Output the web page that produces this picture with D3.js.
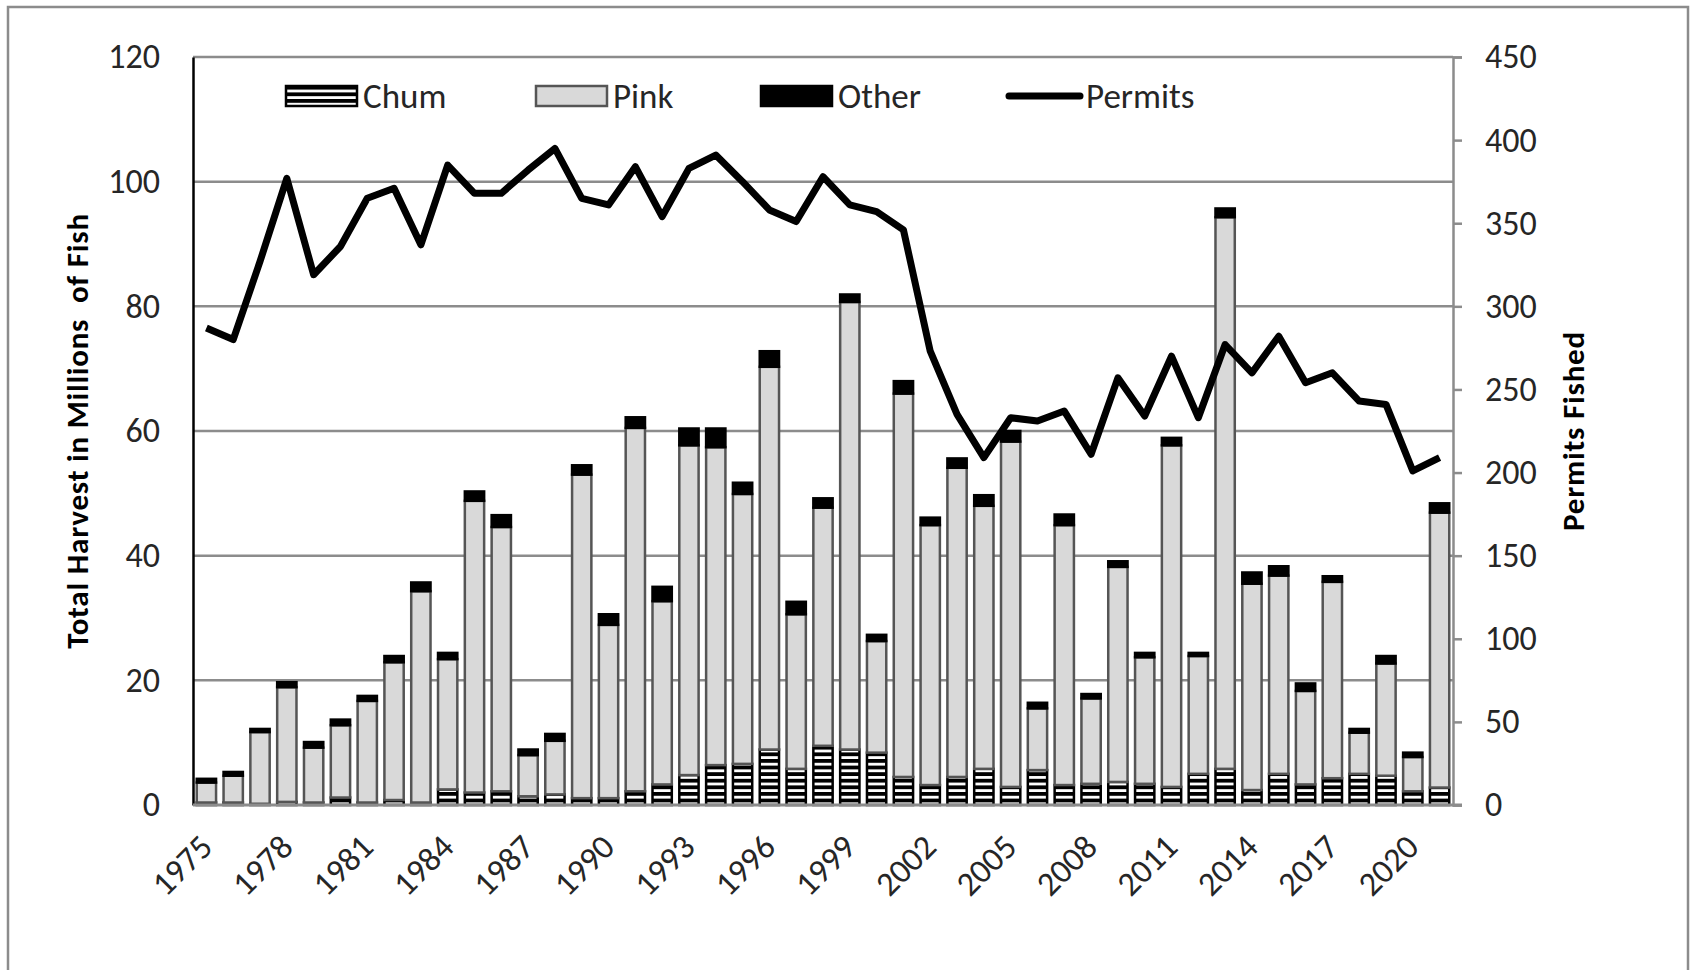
<!DOCTYPE html>
<html>
<head>
<meta charset="utf-8">
<script src="https://cdn.jsdelivr.net/npm/d3@7"></script>
<style>
  html, body { margin: 0; padding: 0; background: #fff; }
  svg { display: block; font-family: Carlito, Calibri, Lato, sans-serif; }
</style>
</head>
<body>
<svg class="svg"></svg>
<script>
// harvest in millions of fish, stacked chum / pink / other
const years = d3.range(1975, 2022);
const chum = [0.4, 0.4, 0.2, 0.5, 0.4, 1.2, 0.4, 0.8, 0.4, 2.5,
  2.0, 2.2, 1.4, 1.7, 1.1, 1.1, 2.2, 3.3, 4.8, 6.4,
  6.6, 8.9, 5.8, 9.5, 8.9, 8.4, 4.5, 3.2, 4.5, 5.8,
  2.9, 5.6, 3.2, 3.4, 3.7, 3.4, 2.9, 5.0, 5.8, 2.4,
  5.0, 3.3, 4.3, 5.0, 4.7, 2.2, 2.8];
const pink = [3.2, 4.3, 11.5, 18.4, 8.8, 11.6, 16.3, 22.1, 33.9, 20.9,
  46.8, 42.4, 6.6, 8.6, 51.9, 27.8, 58.3, 29.4, 52.9, 51.0,
  43.3, 61.4, 24.8, 38.2, 71.8, 17.9, 61.5, 41.7, 49.6, 42.2,
  55.4, 9.9, 41.7, 13.7, 34.5, 20.3, 54.8, 18.9, 88.5, 33.1,
  31.8, 15.0, 31.5, 6.6, 18.0, 5.5, 44.1];
const other = [0.6, 0.6, 0.5, 0.8, 0.9, 0.9, 0.8, 1.0, 1.4, 1.0,
  1.5, 1.9, 0.9, 1.1, 1.5, 1.7, 1.7, 2.3, 2.7, 3.0,
  1.8, 2.5, 2.0, 1.5, 1.2, 1.0, 2.0, 1.2, 1.5, 1.7,
  1.7, 0.9, 1.7, 0.7, 0.9, 0.7, 1.2, 0.5, 1.4, 1.8,
  1.5, 1.2, 0.9, 0.6, 1.2, 0.7, 1.5];
const permits = [287, 280, 327, 377, 319, 336, 365, 371, 337, 385,
  368, 368, 382, 395, 365, 361, 384, 354, 383, 391,
  375, 358, 351, 378, 361, 357, 346, 273, 235, 209,
  233, 231, 237, 211, 257, 234, 270, 233, 277, 260,
  282, 254, 260, 243, 241, 201, 209];
const yearLabels = d3.range(1975, 2021, 3);
const leftTicks = [0, 20, 40, 60, 80, 100, 120];
const rightTicks = [0, 50, 100, 150, 200, 250, 300, 350, 400, 450];
const seriesNames = ['Chum', 'Pink', 'Other'];

const width = 1692;
const height = 970;
const plotL = 193, plotR = 1453, plotT = 57, plotB = 805;
const txt = '#262626';

const svg = d3.select('.svg')
  .attr('width', width)
  .attr('height', height);

const defs = svg.append('defs');
const pat = defs.append('pattern')
  .attr('id', 'chum-pat')
  .attr('patternUnits', 'userSpaceOnUse')
  .attr('width', 8)
  .attr('height', 6.6);
pat.append('rect').attr('width', 8).attr('height', 6.6).attr('fill', '#fff');
pat.append('rect').attr('width', 8).attr('height', 3.8).attr('fill', '#000');

// outer chart border
svg.append('rect')
  .attr('x', 8).attr('y', 7)
  .attr('width', 1680).attr('height', 990)
  .attr('fill', 'none')
  .attr('stroke', '#8c8c8c')
  .attr('stroke-width', 2.5);

const x = d3.scaleBand()
  .domain(years)
  .range([plotL, plotR])
  .paddingInner(0.28)
  .paddingOuter(0.14);

const y = d3.scaleLinear().domain([0, 120]).range([plotB, plotT]);
const y2 = d3.scaleLinear().domain([0, 450]).range([plotB, plotT]);

const rows = years.map((yr, i) => ({ year: yr, chum: chum[i], pink: pink[i], other: other[i] }));
const stack = d3.stack().keys(['chum', 'pink', 'other'])(rows);

// gridlines
svg.append('g')
  .selectAll('line')
  .data(leftTicks.filter(d => d > 0))
  .join('line')
  .attr('x1', plotL).attr('x2', plotR)
  .attr('y1', d => y(d)).attr('y2', d => y(d))
  .attr('stroke', '#8c8c8c')
  .attr('stroke-width', 2.5);

// right axis
const rAxis = svg.append('g')
  .attr('transform', `translate(${plotR},0)`)
  .call(d3.axisRight(y2).tickValues(rightTicks).tickSize(9).tickPadding(23));
rAxis.select('.domain').attr('stroke', '#8c8c8c').attr('stroke-width', 2.5);
rAxis.selectAll('.tick line').attr('stroke', '#8c8c8c').attr('stroke-width', 2.5);
rAxis.selectAll('.tick text')
  .attr('font-size', 34)
  .attr('font-family', 'Carlito, Calibri, Lato, sans-serif')
  .attr('fill', txt);

// bars
const fills = { chum: 'url(#chum-pat)', pink: '#d9d9d9', other: '#000' };
const strokes = { chum: '#000', pink: '#555', other: '#000' };
svg.append('g')
  .selectAll('g')
  .data(stack)
  .join('g')
  .attr('fill', d => fills[d.key])
  .attr('stroke', d => strokes[d.key])
  .attr('stroke-width', 2.5)
  .selectAll('rect')
  .data(d => d)
  .join('rect')
  .attr('x', d => x(d.data.year))
  .attr('width', x.bandwidth())
  .attr('y', d => y(d[1]))
  .attr('height', d => y(d[0]) - y(d[1]));

// left axis
const lAxis = svg.append('g')
  .attr('transform', `translate(${plotL},0)`)
  .call(d3.axisLeft(y).tickValues(leftTicks).tickSize(0).tickPadding(33));
lAxis.select('.domain').attr('stroke', '#000').attr('stroke-width', 2.5);
lAxis.selectAll('.tick text')
  .attr('font-size', 34)
  .attr('font-family', 'Carlito, Calibri, Lato, sans-serif')
  .attr('fill', txt);

// bottom axis line
svg.append('line')
  .attr('x1', plotL).attr('x2', plotR + 9)
  .attr('y1', plotB).attr('y2', plotB)
  .attr('stroke', '#8c8c8c')
  .attr('stroke-width', 3);

// year labels
svg.append('g')
  .selectAll('text')
  .data(yearLabels)
  .join('text')
  .attr('transform', d => `translate(${x(d) + x.bandwidth() / 2 + 8},${plotB + 44}) rotate(-45)`)
  .attr('text-anchor', 'end')
  .attr('font-size', 34)
  .attr('fill', txt)
  .text(d => d);

// permits line
const line = d3.line()
  .x((d, i) => x(years[i]) + x.bandwidth() / 2)
  .y(d => y2(d));
svg.append('path')
  .datum(permits)
  .attr('d', line)
  .attr('fill', 'none')
  .attr('stroke', '#000')
  .attr('stroke-width', 7)
  .attr('stroke-linejoin', 'round');

// axis titles
svg.append('text')
  .attr('transform', `translate(88,${(plotT + plotB) / 2}) rotate(-90)`)
  .attr('text-anchor', 'middle')
  .attr('font-size', 31)
  .attr('font-weight', 'bold')
  .attr('letter-spacing', 0.8)
  .style('white-space', 'pre')
  .text('Total Harvest in Millions  of Fish');

svg.append('text')
  .attr('transform', `translate(1584,${(plotT + plotB) / 2}) rotate(-90)`)
  .attr('text-anchor', 'middle')
  .attr('font-size', 31)
  .attr('font-weight', 'bold')
  .attr('letter-spacing', 0.8)
  .text('Permits Fished');

// legend
const legendX = [285, 535, 760, 1006];
const legend = svg.append('g');
seriesNames.forEach((name, i) => {
  const key = name.toLowerCase();
  legend.append('rect')
    .attr('x', legendX[i] + 1).attr('y', 86)
    .attr('width', 71).attr('height', 20)
    .attr('fill', fills[key])
    .attr('stroke', strokes[key])
    .attr('stroke-width', 2.5);
  legend.append('text')
    .attr('x', legendX[i] + 78).attr('y', 96)
    .attr('dy', '0.35em')
    .attr('font-size', 35)
    .attr('fill', txt)
    .text(name);
});
legend.append('line')
  .attr('x1', legendX[3] + 3).attr('x2', legendX[3] + 74)
  .attr('y1', 96).attr('y2', 96)
  .attr('stroke', '#000')
  .attr('stroke-width', 7)
  .attr('stroke-linecap', 'round');
legend.append('text')
  .attr('x', legendX[3] + 80).attr('y', 96)
  .attr('dy', '0.35em')
  .attr('font-size', 35)
  .attr('fill', txt)
  .text('Permits');
</script>
</body>
</html>
